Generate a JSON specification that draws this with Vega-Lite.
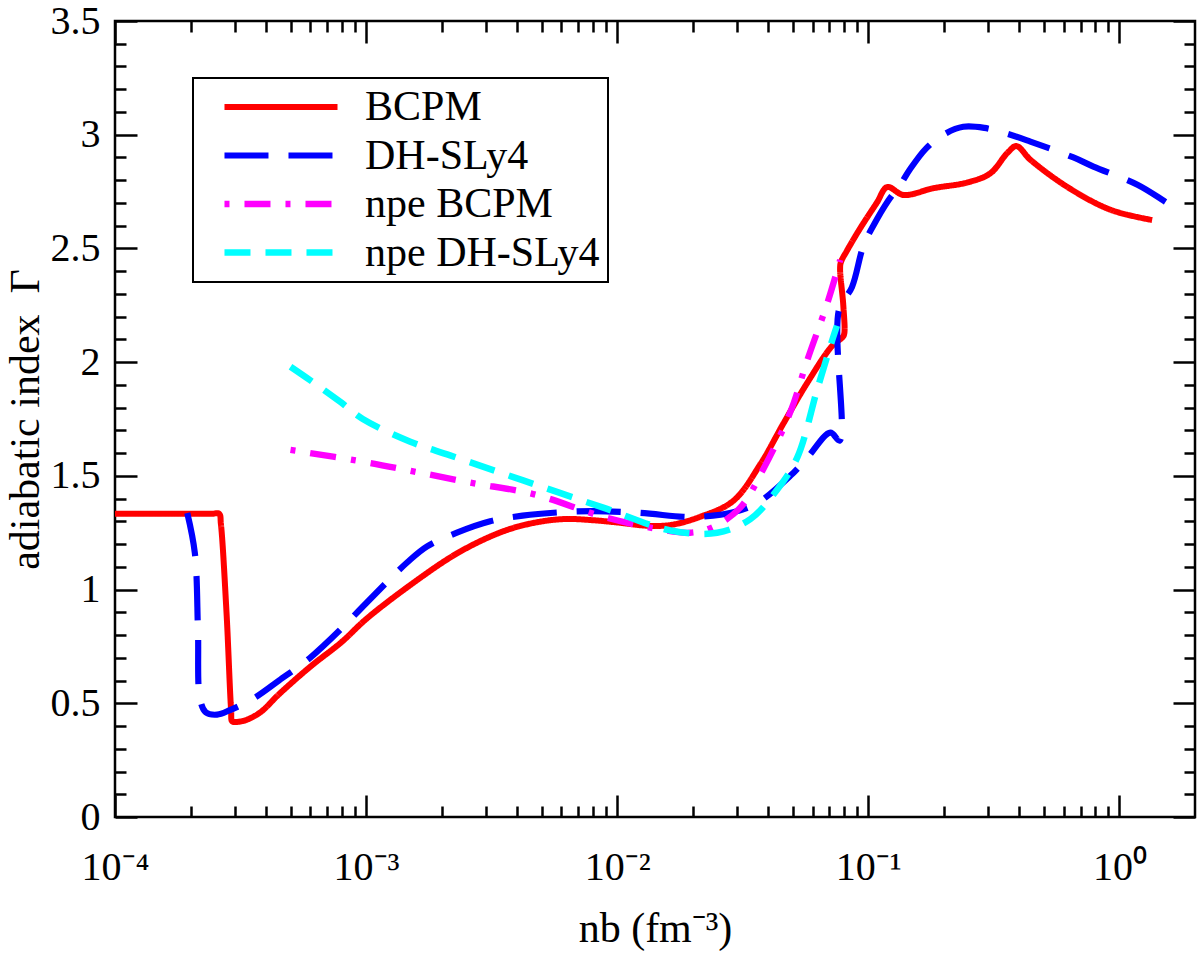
{
  "$schema": "https://vega.github.io/schema/vega-lite/v6.json",
  "width": 1080,
  "height": 796,
  "autosize": {"type": "none"},
  "padding": {"left": 115, "top": 21, "right": 5, "bottom": 144},
  "background": "white",
  "config": {
    "font": "Liberation Serif",
    "view": {"stroke": "black", "strokeWidth": 2.5},
    "axis": {
      "grid": false,
      "domain": false,
      "tickColor": "black",
      "tickWidth": 2.5,
      "labelColor": "black",
      "labelFont": "Liberation Serif",
      "labelFontSize": 40,
      "titleFont": "Liberation Serif",
      "titleFontSize": 42,
      "titleFontWeight": "normal",
      "titleColor": "black"
    },
    "legend": {
      "strokeColor": "black",
      "strokeWidth": 2,
      "fillColor": "white",
      "padding": 8,
      "labelFont": "Liberation Serif",
      "labelFontSize": 42,
      "labelColor": "black",
      "labelLimit": 400
    }
  },
  "data": {
    "values": [
      {"series": "BCPM", "i": 1, "x": 0.0001, "y": 1.333},
      {"series": "BCPM", "i": 2, "x": 0.00024, "y": 1.333},
      {"series": "BCPM", "i": 3, "x": 0.00026, "y": 1.333},
      {"series": "BCPM", "i": 4, "x": 0.000264, "y": 1.29},
      {"series": "BCPM", "i": 5, "x": 0.000278, "y": 0.9},
      {"series": "BCPM", "i": 6, "x": 0.00029, "y": 0.47},
      {"series": "BCPM", "i": 7, "x": 0.000293, "y": 0.42},
      {"series": "BCPM", "i": 8, "x": 0.000305, "y": 0.418},
      {"series": "BCPM", "i": 9, "x": 0.00033, "y": 0.425},
      {"series": "BCPM", "i": 10, "x": 0.000379, "y": 0.46},
      {"series": "BCPM", "i": 11, "x": 0.00045, "y": 0.54},
      {"series": "BCPM", "i": 12, "x": 0.000598, "y": 0.66},
      {"series": "BCPM", "i": 13, "x": 0.0008, "y": 0.77},
      {"series": "BCPM", "i": 14, "x": 0.001, "y": 0.87},
      {"series": "BCPM", "i": 15, "x": 0.0015, "y": 1.02},
      {"series": "BCPM", "i": 16, "x": 0.00231, "y": 1.16},
      {"series": "BCPM", "i": 17, "x": 0.0034, "y": 1.25},
      {"series": "BCPM", "i": 18, "x": 0.0045, "y": 1.29},
      {"series": "BCPM", "i": 19, "x": 0.0061, "y": 1.31},
      {"series": "BCPM", "i": 20, "x": 0.008, "y": 1.305},
      {"series": "BCPM", "i": 21, "x": 0.01, "y": 1.295},
      {"series": "BCPM", "i": 22, "x": 0.0135, "y": 1.28},
      {"series": "BCPM", "i": 23, "x": 0.0165, "y": 1.285},
      {"series": "BCPM", "i": 24, "x": 0.0214, "y": 1.32},
      {"series": "BCPM", "i": 25, "x": 0.029, "y": 1.39},
      {"series": "BCPM", "i": 26, "x": 0.0371, "y": 1.55},
      {"series": "BCPM", "i": 27, "x": 0.0459, "y": 1.73},
      {"series": "BCPM", "i": 28, "x": 0.0572, "y": 1.91},
      {"series": "BCPM", "i": 29, "x": 0.0716, "y": 2.07},
      {"series": "BCPM", "i": 30, "x": 0.079, "y": 2.11},
      {"series": "BCPM", "i": 31, "x": 0.0802, "y": 2.125},
      {"series": "BCPM", "i": 32, "x": 0.0795, "y": 2.25},
      {"series": "BCPM", "i": 33, "x": 0.0772, "y": 2.41},
      {"series": "BCPM", "i": 34, "x": 0.0778, "y": 2.44},
      {"series": "BCPM", "i": 35, "x": 0.0822, "y": 2.49},
      {"series": "BCPM", "i": 36, "x": 0.093, "y": 2.59},
      {"series": "BCPM", "i": 37, "x": 0.108, "y": 2.7},
      {"series": "BCPM", "i": 38, "x": 0.119, "y": 2.77},
      {"series": "BCPM", "i": 39, "x": 0.138, "y": 2.735},
      {"series": "BCPM", "i": 40, "x": 0.182, "y": 2.765},
      {"series": "BCPM", "i": 41, "x": 0.248, "y": 2.79},
      {"series": "BCPM", "i": 42, "x": 0.306, "y": 2.83},
      {"series": "BCPM", "i": 43, "x": 0.358, "y": 2.92},
      {"series": "BCPM", "i": 44, "x": 0.389, "y": 2.95},
      {"series": "BCPM", "i": 45, "x": 0.442, "y": 2.89},
      {"series": "BCPM", "i": 46, "x": 0.621, "y": 2.77},
      {"series": "BCPM", "i": 47, "x": 0.921, "y": 2.67},
      {"series": "BCPM", "i": 48, "x": 1.35, "y": 2.625},

      {"series": "DH-SLy4", "i": 1, "x": 0.000194, "y": 1.337},
      {"series": "DH-SLy4", "i": 2, "x": 0.000208, "y": 1.16},
      {"series": "DH-SLy4", "i": 3, "x": 0.000214, "y": 0.82},
      {"series": "DH-SLy4", "i": 4, "x": 0.000218, "y": 0.52},
      {"series": "DH-SLy4", "i": 5, "x": 0.00023, "y": 0.46},
      {"series": "DH-SLy4", "i": 6, "x": 0.000255, "y": 0.45},
      {"series": "DH-SLy4", "i": 7, "x": 0.000287, "y": 0.47},
      {"series": "DH-SLy4", "i": 8, "x": 0.000355, "y": 0.52},
      {"series": "DH-SLy4", "i": 9, "x": 0.00045, "y": 0.6},
      {"series": "DH-SLy4", "i": 10, "x": 0.000598, "y": 0.7},
      {"series": "DH-SLy4", "i": 11, "x": 0.0008, "y": 0.83},
      {"series": "DH-SLy4", "i": 12, "x": 0.001, "y": 0.94},
      {"series": "DH-SLy4", "i": 13, "x": 0.00146, "y": 1.12},
      {"series": "DH-SLy4", "i": 14, "x": 0.00175, "y": 1.19},
      {"series": "DH-SLy4", "i": 15, "x": 0.0023, "y": 1.25},
      {"series": "DH-SLy4", "i": 16, "x": 0.00312, "y": 1.3},
      {"series": "DH-SLy4", "i": 17, "x": 0.0042, "y": 1.325},
      {"series": "DH-SLy4", "i": 18, "x": 0.00593, "y": 1.34},
      {"series": "DH-SLy4", "i": 19, "x": 0.008, "y": 1.345},
      {"series": "DH-SLy4", "i": 20, "x": 0.01236, "y": 1.337},
      {"series": "DH-SLy4", "i": 21, "x": 0.0183, "y": 1.32},
      {"series": "DH-SLy4", "i": 22, "x": 0.0214, "y": 1.32},
      {"series": "DH-SLy4", "i": 23, "x": 0.029, "y": 1.34},
      {"series": "DH-SLy4", "i": 24, "x": 0.0361, "y": 1.38},
      {"series": "DH-SLy4", "i": 25, "x": 0.0489, "y": 1.5},
      {"series": "DH-SLy4", "i": 26, "x": 0.0572, "y": 1.58},
      {"series": "DH-SLy4", "i": 27, "x": 0.0706, "y": 1.69},
      {"series": "DH-SLy4", "i": 28, "x": 0.0769, "y": 1.655},
      {"series": "DH-SLy4", "i": 29, "x": 0.0764, "y": 2.23},
      {"series": "DH-SLy4", "i": 30, "x": 0.0861, "y": 2.33},
      {"series": "DH-SLy4", "i": 31, "x": 0.0955, "y": 2.51},
      {"series": "DH-SLy4", "i": 32, "x": 0.1047, "y": 2.6},
      {"series": "DH-SLy4", "i": 33, "x": 0.12, "y": 2.71},
      {"series": "DH-SLy4", "i": 34, "x": 0.134, "y": 2.78},
      {"series": "DH-SLy4", "i": 35, "x": 0.147, "y": 2.85},
      {"series": "DH-SLy4", "i": 36, "x": 0.17, "y": 2.94},
      {"series": "DH-SLy4", "i": 37, "x": 0.199, "y": 3.0},
      {"series": "DH-SLy4", "i": 38, "x": 0.239, "y": 3.035},
      {"series": "DH-SLy4", "i": 39, "x": 0.29, "y": 3.03},
      {"series": "DH-SLy4", "i": 40, "x": 0.368, "y": 3.0},
      {"series": "DH-SLy4", "i": 41, "x": 0.442, "y": 2.97},
      {"series": "DH-SLy4", "i": 42, "x": 0.656, "y": 2.9},
      {"series": "DH-SLy4", "i": 43, "x": 0.788, "y": 2.86},
      {"series": "DH-SLy4", "i": 44, "x": 1.18, "y": 2.78},
      {"series": "DH-SLy4", "i": 45, "x": 1.5, "y": 2.71},
      {"series": "DH-SLy4", "i": 46, "x": 1.6, "y": 2.69},

      {"series": "npe BCPM", "i": 1, "x": 0.0005, "y": 1.614},
      {"series": "npe BCPM", "i": 2, "x": 0.001, "y": 1.56},
      {"series": "npe BCPM", "i": 3, "x": 0.00154, "y": 1.52},
      {"series": "npe BCPM", "i": 4, "x": 0.0026, "y": 1.47},
      {"series": "npe BCPM", "i": 5, "x": 0.00463, "y": 1.42},
      {"series": "npe BCPM", "i": 6, "x": 0.0088, "y": 1.32},
      {"series": "npe BCPM", "i": 7, "x": 0.0139, "y": 1.27},
      {"series": "npe BCPM", "i": 8, "x": 0.0195, "y": 1.25},
      {"series": "npe BCPM", "i": 9, "x": 0.0241, "y": 1.275},
      {"series": "npe BCPM", "i": 10, "x": 0.0309, "y": 1.36},
      {"series": "npe BCPM", "i": 11, "x": 0.0382, "y": 1.53},
      {"series": "npe BCPM", "i": 12, "x": 0.0489, "y": 1.78},
      {"series": "npe BCPM", "i": 13, "x": 0.0572, "y": 2.01},
      {"series": "npe BCPM", "i": 14, "x": 0.0687, "y": 2.26},
      {"series": "npe BCPM", "i": 15, "x": 0.0773, "y": 2.45},

      {"series": "npe DH-SLy4", "i": 1, "x": 0.0005, "y": 1.98},
      {"series": "npe DH-SLy4", "i": 2, "x": 0.0006, "y": 1.92},
      {"series": "npe DH-SLy4", "i": 3, "x": 0.00079, "y": 1.825},
      {"series": "npe DH-SLy4", "i": 4, "x": 0.00097, "y": 1.75},
      {"series": "npe DH-SLy4", "i": 5, "x": 0.0015, "y": 1.65},
      {"series": "npe DH-SLy4", "i": 6, "x": 0.00216, "y": 1.59},
      {"series": "npe DH-SLy4", "i": 7, "x": 0.00422, "y": 1.48},
      {"series": "npe DH-SLy4", "i": 8, "x": 0.0088, "y": 1.36},
      {"series": "npe DH-SLy4", "i": 9, "x": 0.0163, "y": 1.26},
      {"series": "npe DH-SLy4", "i": 10, "x": 0.025, "y": 1.25},
      {"series": "npe DH-SLy4", "i": 11, "x": 0.0339, "y": 1.31},
      {"series": "npe DH-SLy4", "i": 12, "x": 0.0434, "y": 1.44},
      {"series": "npe DH-SLy4", "i": 13, "x": 0.0521, "y": 1.58},
      {"series": "npe DH-SLy4", "i": 14, "x": 0.0626, "y": 1.88},
      {"series": "npe DH-SLy4", "i": 15, "x": 0.072, "y": 2.1},
      {"series": "npe DH-SLy4", "i": 16, "x": 0.075, "y": 2.16}
    ]
  },
  "layer": [
    {
      "mark": {"type": "line", "clip": true, "interpolate": "catmull-rom"},
      "encoding": {
        "x": {
          "field": "x",
          "type": "quantitative",
          "scale": {"type": "log", "domain": [0.0001, 2], "nice": false},
          "axis": {
            "orient": "bottom",
            "values": [0.0001, 0.0002, 0.0003, 0.0004, 0.0005, 0.0006, 0.0007, 0.0008, 0.0009, 0.001, 0.002, 0.003, 0.004, 0.005, 0.006, 0.007, 0.008, 0.009, 0.01, 0.02, 0.03, 0.04, 0.05, 0.06, 0.07, 0.08, 0.09, 0.1, 0.2, 0.3, 0.4, 0.5, 0.6, 0.7, 0.8, 0.9, 1],
            "labelExpr": "datum.value == 0.0001 ? '10⁻⁴' : datum.value == 0.001 ? '10⁻³' : datum.value == 0.01 ? '10⁻²' : datum.value == 0.1 ? '10⁻¹' : datum.value == 1 ? '10⁰' : ''",
            "labelFlush": false,
            "labelOverlap": false,
            "tickSize": {"condition": {"test": "datum.value == 0.0001 || datum.value == 0.001 || datum.value == 0.01 || datum.value == 0.1 || datum.value == 1", "value": -22}, "value": -11},
            "labelPadding": 52,
            "title": "nb (fm⁻³)",
            "titlePadding": 10
          }
        },
        "y": {
          "field": "y",
          "type": "quantitative",
          "scale": {"domain": [0, 3.5], "nice": false, "zero": true},
          "axis": {
            "orient": "left",
            "values": [0, 0.1, 0.2, 0.3, 0.4, 0.5, 0.6, 0.7, 0.8, 0.9, 1, 1.1, 1.2, 1.3, 1.4, 1.5, 1.6, 1.7, 1.8, 1.9, 2, 2.1, 2.2, 2.3, 2.4, 2.5, 2.6, 2.7, 2.8, 2.9, 3, 3.1, 3.2, 3.3, 3.4, 3.5],
            "labelExpr": "indexof([0, 0.5, 1, 1.5, 2, 2.5, 3, 3.5], datum.value) >= 0 ? format(datum.value, '~g') : ''",
            "labelOverlap": false,
            "labelFlush": false,
            "tickSize": {"condition": {"test": "indexof([0, 0.5, 1, 1.5, 2, 2.5, 3, 3.5], datum.value) >= 0", "value": -22}, "value": -11},
            "labelPadding": 37,
            "title": "adiabatic index\u2002Γ",
            "titlePadding": 3
          }
        },
        "color": {
          "field": "series",
          "type": "nominal",
          "scale": {
            "domain": ["BCPM", "DH-SLy4", "npe BCPM", "npe DH-SLy4"],
            "range": ["#ff0000", "#0000ff", "#ff00ff", "#00ffff"]
          },
          "legend": {
            "orient": "none",
            "legendX": 78,
            "legendY": 57,
            "title": null,
            "symbolType": "M-5,0H5",
            "symbolSize": 511,
            "symbolStrokeWidth": 6,
            "symbolOffset": 59,
            "labelOffset": 63,
            "rowPadding": 6.5
          }
        },
        "strokeDash": {
          "field": "series",
          "type": "nominal",
          "scale": {
            "domain": ["BCPM", "DH-SLy4", "npe BCPM", "npe DH-SLy4"],
            "range": [[1, 0], [44, 20], [5, 15, 26, 15], [26, 15]]
          },
          "legend": {
            "orient": "none",
            "legendX": 78,
            "legendY": 57,
            "title": null,
            "symbolType": "M-5,0H5",
            "symbolSize": 511,
            "symbolStrokeWidth": 6,
            "symbolOffset": 59,
            "labelOffset": 63,
            "rowPadding": 6.5
          }
        },
        "strokeWidth": {
          "field": "series",
          "type": "nominal",
          "scale": {
            "domain": ["BCPM", "DH-SLy4", "npe BCPM", "npe DH-SLy4"],
            "range": [6, 6.5, 4.5, 4.5]
          },
          "legend": null
        },
        "order": {"field": "i", "type": "quantitative"}
      }
    },
    {
      "mark": {"type": "point", "opacity": 0},
      "encoding": {
        "x": {
          "field": "x",
          "type": "quantitative",
          "axis": {
            "orient": "top",
            "values": [0.0001, 0.0002, 0.0003, 0.0004, 0.0005, 0.0006, 0.0007, 0.0008, 0.0009, 0.001, 0.002, 0.003, 0.004, 0.005, 0.006, 0.007, 0.008, 0.009, 0.01, 0.02, 0.03, 0.04, 0.05, 0.06, 0.07, 0.08, 0.09, 0.1, 0.2, 0.3, 0.4, 0.5, 0.6, 0.7, 0.8, 0.9, 1],
            "labels": false,
            "tickSize": {"condition": {"test": "datum.value == 0.0001 || datum.value == 0.001 || datum.value == 0.01 || datum.value == 0.1 || datum.value == 1", "value": -22}, "value": -11},
            "title": null
          }
        },
        "y": {
          "field": "y",
          "type": "quantitative",
          "axis": {
            "orient": "right",
            "values": [0, 0.1, 0.2, 0.3, 0.4, 0.5, 0.6, 0.7, 0.8, 0.9, 1, 1.1, 1.2, 1.3, 1.4, 1.5, 1.6, 1.7, 1.8, 1.9, 2, 2.1, 2.2, 2.3, 2.4, 2.5, 2.6, 2.7, 2.8, 2.9, 3, 3.1, 3.2, 3.3, 3.4, 3.5],
            "labels": false,
            "tickSize": {"condition": {"test": "indexof([0, 0.5, 1, 1.5, 2, 2.5, 3, 3.5], datum.value) >= 0", "value": -22}, "value": -11},
            "title": null
          }
        }
      }
    }
  ],
  "resolve": {"axis": {"x": "independent", "y": "independent"}}
}
